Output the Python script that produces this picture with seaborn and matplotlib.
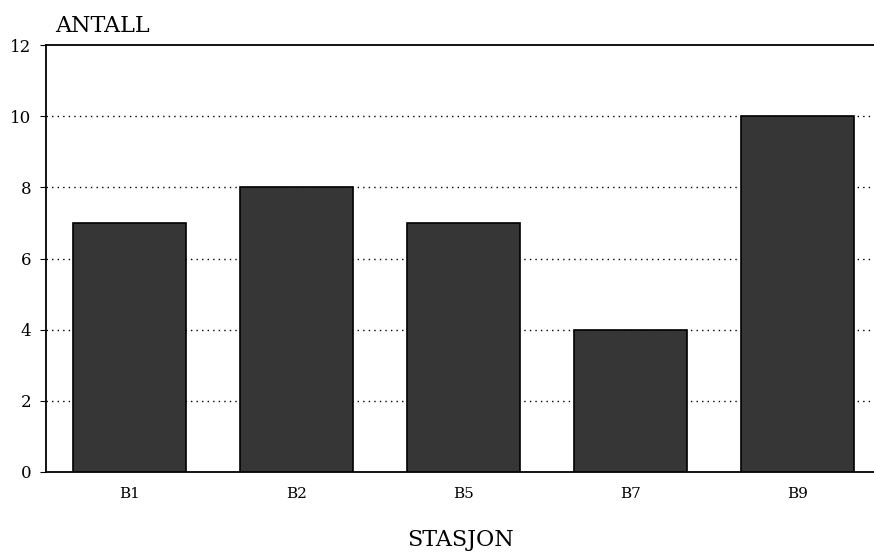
import numpy as np
import pandas as pd
import matplotlib
matplotlib.use("Agg")
import matplotlib.pyplot as plt
import seaborn as sns

stasjon = ["B1", "B2", "B5", "B7", "B9"]
antall = [7, 8, 7, 4, 10]

df = pd.DataFrame({"Stasjon": stasjon, "Antall": antall})

sns.set_style("white")
plt.rcParams["font.family"] = ["DejaVu Serif"]
plt.rcParams["text.color"] = "black"
plt.rcParams["xtick.color"] = "black"
plt.rcParams["ytick.color"] = "black"
plt.rcParams["axes.labelcolor"] = "black"

fig = plt.figure(figsize=(8.74, 5.52), dpi=100)
ax = fig.add_axes([0.053, 0.145, 0.947, 0.773])

# dark stippled bars
sns.barplot(data=df, x="Stasjon", y="Antall", color="#363636", saturation=1,
            width=0.68, edgecolor="black", linewidth=1.2, ax=ax, zorder=3)

ax.set_ylim(0, 12)
ax.set_xlim(-0.5, 4.46)
ax.set_yticks(range(0, 13, 2))
for yv in range(2, 12, 2):
    ax.axhline(yv, color="black", linestyle=(0, (1, 3)), linewidth=1, zorder=1)

for s in ["left", "top", "bottom"]:
    ax.spines[s].set_visible(True)
    ax.spines[s].set_color("black")
    ax.spines[s].set_linewidth(1.3)
ax.spines["right"].set_visible(False)

ax.tick_params(axis="y", direction="out", length=4, pad=7, labelsize=12, left=True)
ax.tick_params(axis="x", length=0, pad=11, labelsize=11)

ax.set_xlabel("STASJON", fontsize=16, labelpad=20)
ax.set_ylabel("")
fig.text(0.063, 0.953, "ANTALL", fontsize=16, ha="left", va="center")

fig.savefig("out.png", dpi=100, facecolor="white")
